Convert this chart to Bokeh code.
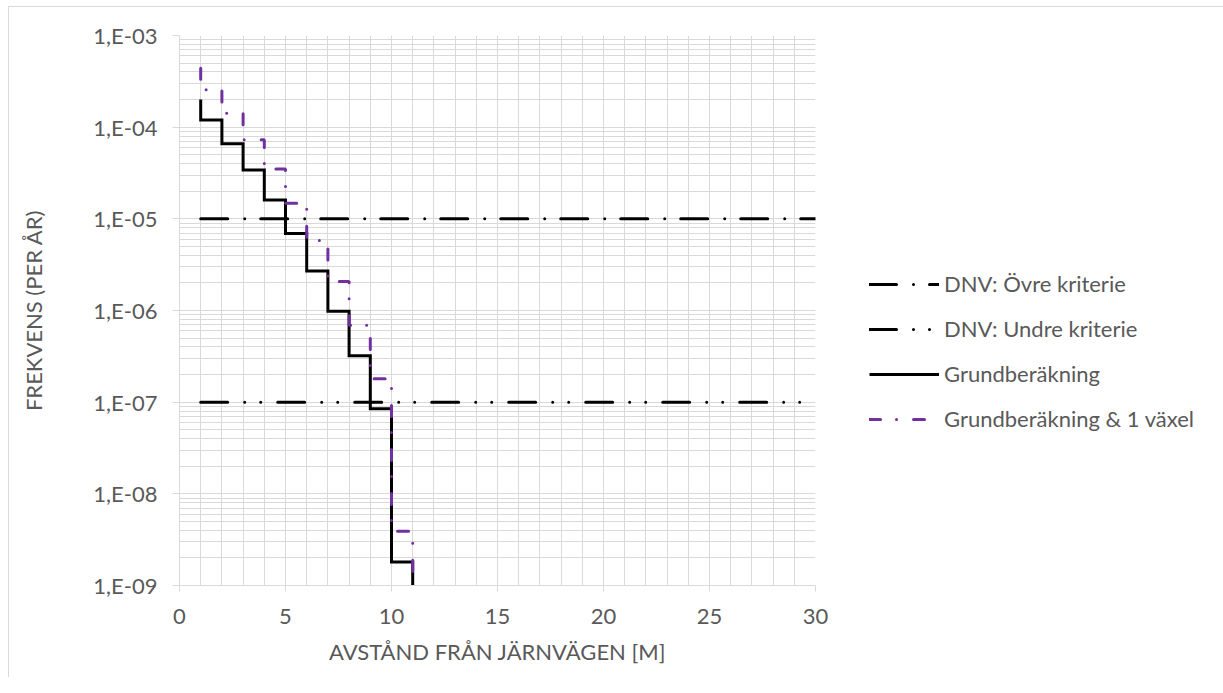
from bokeh.plotting import figure
from bokeh.models import FixedTicker, Legend, LegendItem, Range1d
from bokeh.embed import file_html
from bokeh.resources import INLINE

# ---------------- data ----------------
distance_m = [1, 2, 3, 4, 5, 6, 7, 8, 9, 10, 11]

grund_start = 2.0e-4
grund_levels = [1.2e-4, 6.6e-5, 3.4e-5, 1.6e-5, 6.9e-6, 2.7e-6, 9.8e-7, 3.2e-7, 8.5e-8, 1.8e-9]
grund_end = 1.0e-10

vaxel_start = 4.4e-4
vaxel_levels = [2.56e-4, 1.42e-4, 7.3e-5, 3.5e-5, 1.48e-5, 5.8e-6, 2.07e-6, 6.9e-7, 1.8e-7, 3.9e-9]
vaxel_end = 1.0e-10

criteria_x = [1, 30]
ovre_kriterie = [1e-5, 1e-5]
undre_kriterie = [1e-7, 1e-7]

x_ticks = [0, 5, 10, 15, 20, 25, 30]
x_minor = list(range(0, 31))
y_ticks = [1e-9, 1e-8, 1e-7, 1e-6, 1e-5, 1e-4, 1e-3]
y_tick_labels = ["1,E-09", "1,E-08", "1,E-07", "1,E-06", "1,E-05", "1,E-04", "1,E-03"]
y_minor = [m * t for t in y_ticks[:-1] for m in range(1, 10)] + [y_ticks[-1]]

label_names = ["DNV: Övre kriterie", "DNV: Undre kriterie", "Grundberäkning",
               "Grundberäkning & 1 växel"]


def staircase(xs, start, levels, end):
    px, py = [xs[0]], [start]
    for i, lv in enumerate(levels):
        px += [xs[i], xs[i + 1]]
        py += [lv, lv]
    px.append(xs[len(levels)])
    py.append(end)
    return px, py


gx, gy = staircase(distance_m, grund_start, grund_levels, grund_end)
vx, vy = staircase(distance_m, vaxel_start, vaxel_levels, vaxel_end)

FONT = "Lato"
GREY_TXT = "#595959"
GRID = "#d9d9d9"
FS = "22px"

p = figure(frame_width=636, frame_height=550, y_axis_type="log",
           x_range=Range1d(0, 30), y_range=Range1d(1e-9, 1e-3),
           output_backend="svg", toolbar_location=None,
           min_border_left=179, min_border_right=0,
           min_border_top=35, min_border_bottom=92)
p.outline_line_color = None
p.border_fill_color = None
p.styles = {
    "background": "linear-gradient(#d9d9d9, #d9d9d9) 8px 6px / 1px 100% no-repeat, "
                  "linear-gradient(#d9d9d9, #d9d9d9) 8px 6px / 100% 1px no-repeat, #ffffff"
}

p.xaxis.ticker = FixedTicker(ticks=x_ticks, minor_ticks=x_minor)
p.yaxis.ticker = FixedTicker(ticks=y_ticks, minor_ticks=y_minor)
p.yaxis.major_label_overrides = dict(zip(y_ticks, y_tick_labels))

for ax in (p.xaxis, p.yaxis):
    ax.axis_line_color = GRID
    ax.major_tick_line_color = GRID
    ax.minor_tick_line_color = None
    ax.major_tick_in = 0
    ax.major_label_text_font = FONT
    ax.major_label_text_font_size = FS
    ax.major_label_text_color = GREY_TXT
    ax.axis_label_text_font = FONT
    ax.axis_label_text_font_size = FS
    ax.axis_label_text_font_style = "normal"
    ax.axis_label_text_color = GREY_TXT

p.xaxis.major_tick_out = 6
p.yaxis.major_tick_out = 7
p.xaxis.major_label_standoff = 17
p.yaxis.major_label_standoff = 15
p.xaxis.axis_label = "AVSTÅND FRÅN JÄRNVÄGEN [M]"
p.yaxis.axis_label = "FREKVENS (PER ÅR)"
p.xaxis.axis_label_standoff = 11
p.yaxis.axis_label_standoff = 43

p.xgrid.grid_line_color = GRID
p.xgrid.minor_grid_line_color = GRID
p.ygrid.grid_line_color = GRID
p.ygrid.minor_grid_line_color = GRID

r_ovre = p.line(criteria_x, ovre_kriterie, line_color="black", line_width=3,
                line_dash="27 17 0 16", line_cap="round")
r_undre = p.line(criteria_x, undre_kriterie, line_color="black", line_width=3,
                 line_dash="27 17 0 16 0 17", line_cap="round")
r_grund = p.line(gx, gy, line_color="black", line_width=3, line_join="miter")
r_vaxel = p.line(vx, vy, line_color="#7030A0", line_width=3,
                 line_dash="11 16 0 17", line_cap="round")

legend = Legend(items=[LegendItem(label=label_names[0], renderers=[r_ovre]),
                       LegendItem(label=label_names[1], renderers=[r_undre]),
                       LegendItem(label=label_names[2], renderers=[r_grund]),
                       LegendItem(label=label_names[3], renderers=[r_vaxel])],
                location=(21, 120), border_line_color="white", border_line_width=1,
                background_fill_alpha=0, padding=32, margin=0,
                glyph_width=70, glyph_height=26, label_height=26, spacing=18,
                label_standoff=5, label_text_font=FONT,
                label_text_font_size=FS, label_text_color=GREY_TXT)
p.add_layout(legend, "right")

open("out.html", "w").write(file_html(p, INLINE))
